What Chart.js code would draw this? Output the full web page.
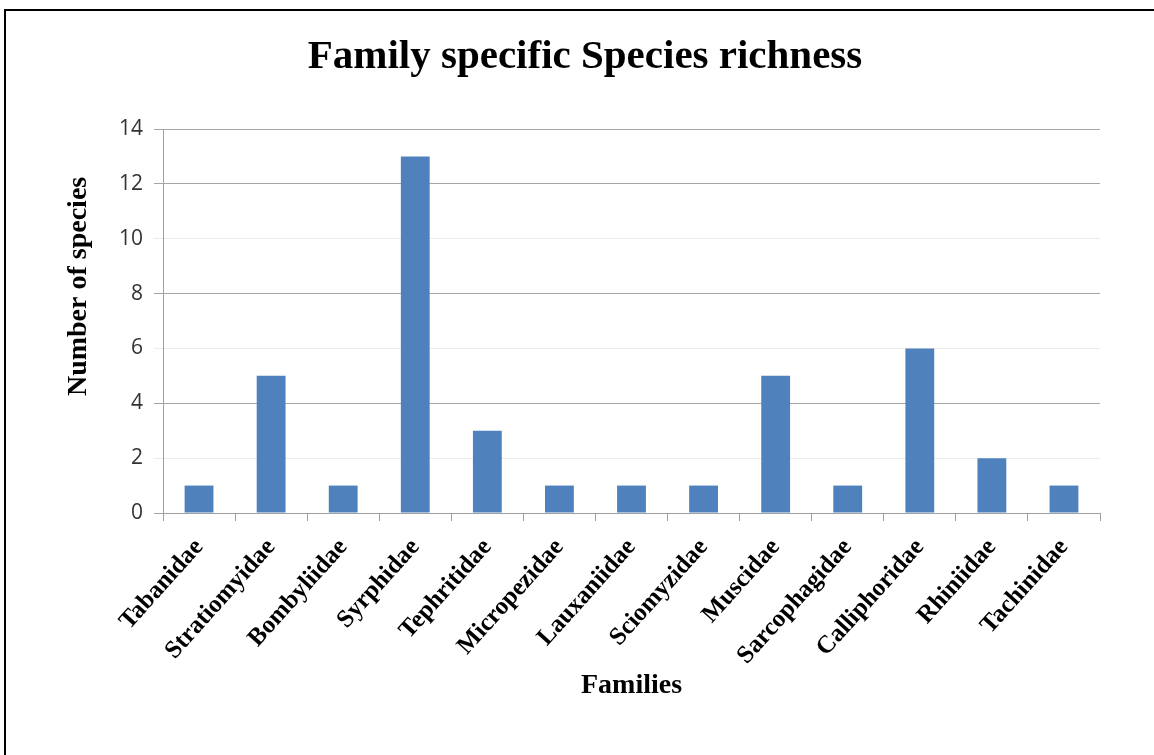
<!DOCTYPE html>
<html>
<head>
<meta charset="utf-8">
<script src="https://cdn.jsdelivr.net/npm/chart.js@4/dist/chart.umd.min.js"></script>
<style>
  html, body { margin: 0; padding: 0; background: #fff; }
  #wrap { position: relative; width: 1154px; height: 755px; overflow: hidden; }
  #frame { position: absolute; left: 4px; top: 9px; width: 1200px; height: 800px;
           border-top: 2px solid #000; border-left: 2px solid #000; box-sizing: border-box; pointer-events: none; }
  canvas { position: absolute; left: 0; top: 0; }
</style>
</head>
<body>
<div id="wrap">
  <canvas id="c" width="1154" height="755"></canvas>
  <div id="frame"></div>
</div>
<script>
const families = ["Tabanidae","Stratiomyidae","Bombyliidae","Syrphidae","Tephritidae","Micropezidae","Lauxaniidae","Sciomyzidae","Muscidae","Sarcophagidae","Calliphoridae","Rhiniidae","Tachinidae"];
const speciesCount = [1,5,1,13,3,1,1,1,5,1,6,2,1];
const yTicks = [0,2,4,6,8,10,12,14];
const chartTitle = "Family specific Species richness";
const xTitle = "Families";
const yTitle = "Number of species";

const serif = "'Liberation Serif', 'Times New Roman', serif";

// y-axis title is drawn slightly above the axis centre, as in the original
const yTitlePlugin = {
  id: 'yTitle',
  afterDraw: (chart) => {
    const ctx = chart.ctx;
    const area = chart.chartArea;
    const cy = area.top + (area.bottom - area.top) * 0.41;
    ctx.save();
    ctx.translate(79, cy);
    ctx.rotate(-Math.PI / 2);
    ctx.font = "bold 28px " + serif;
    ctx.fillStyle = '#000';
    ctx.textAlign = 'center';
    ctx.textBaseline = 'middle';
    ctx.fillText(yTitle, 0, 0);
    ctx.restore();
  }
};

new Chart(document.getElementById('c'), {
  type: 'bar',
  data: {
    labels: families,
    datasets: [{
      data: speciesCount,
      backgroundColor: '#4f81bd',
      borderWidth: 0,
      barPercentage: 0.4,
      categoryPercentage: 1.0
    }]
  },
  options: {
    responsive: false,
    animation: false,
    devicePixelRatio: 1,
    layout: { padding: { left: 70, right: 54, top: 0, bottom: 0 } },
    plugins: {
      legend: { display: false },
      tooltip: { enabled: false },
      title: {
        display: true,
        text: chartTitle,
        color: '#000',
        font: { family: serif, size: 41, weight: 'bold', lineHeight: 1.2 },
        padding: { top: 33, bottom: 46.8 }
      }
    },
    scales: {
      x: {
        grid: { display: true, drawOnChartArea: false, drawTicks: true, tickLength: 8, color: '#a0a0a0', offset: true },
        border: { display: true, color: '#a0a0a0', width: 1 },
        ticks: {
          color: '#000',
          font: { family: serif, size: 25, weight: 'bold' },
          minRotation: 48, maxRotation: 48,
          padding: 12,
          autoSkip: false
        },
        title: {
          display: true, text: xTitle, color: '#000',
          font: { family: serif, size: 28, weight: 'bold', lineHeight: 1.2 },
          padding: { top: 0, bottom: 52 }
        },
        afterFit: (s) => { s.height = 242; }
      },
      y: {
        min: 0, max: 14,
        afterBuildTicks: (s) => { s.ticks = yTicks.map(v => ({ value: v })); },
        grid: {
          drawTicks: true, tickLength: 9,
          color: (ctx) => ([2, 6, 10].includes(ctx.tick && ctx.tick.value) ? '#ebebeb' : '#a6a6a6')
        },
        border: { display: true, color: '#a0a0a0', width: 1 },
        ticks: {
          color: '#333',
          font: { family: "'Open Sans', 'Liberation Sans', sans-serif", size: 21 },
          padding: 11
        },
        title: { display: false },
        afterFit: (s) => { s.width = 93; }
      }
    }
  },
  plugins: [{
    id: 'bg',
    beforeDraw: (chart) => {
      const ctx = chart.ctx;
      ctx.save(); ctx.fillStyle = '#fff'; ctx.fillRect(0, 0, chart.width, chart.height); ctx.restore();
    }
  }, yTitlePlugin]
});
</script>
</body>
</html>
